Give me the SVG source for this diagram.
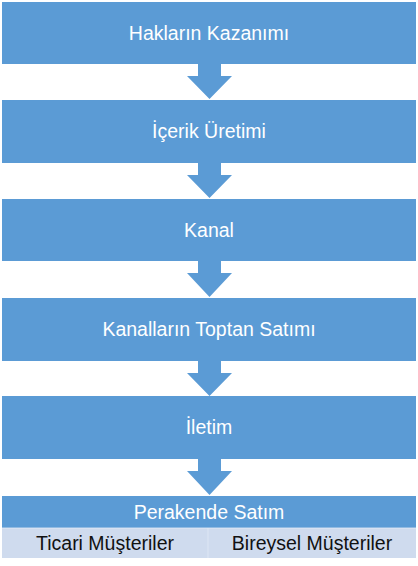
<svg xmlns="http://www.w3.org/2000/svg" width="418" height="566" viewBox="0 0 418 566">
<style>
.box{fill:#5b9bd5}
.arrow{fill:#5b9bd5}
.lbl{font-family:"Liberation Sans",Arial,sans-serif;font-size:19.5px;fill:#ffffff;text-anchor:middle}
.cell{fill:#cfdbee}
.clbl{font-family:"Liberation Sans",Arial,sans-serif;font-size:19.5px;fill:#111111;text-anchor:middle}
</style>
<rect width="418" height="566" fill="#ffffff"/>
<g id="connectors">
<polygon class="arrow" points="198,63 221,63 221,76 232,76 209.5,99 187,76 198,76"/>
<polygon class="arrow" points="198,162 221,162 221,175 232,175 209.5,198 187,175 198,175"/>
<polygon class="arrow" points="198,260 221,260 221,273 232,273 209.5,297 187,273 198,273"/>
<polygon class="arrow" points="198,360 221,360 221,373 232,373 209.5,396 187,373 198,373"/>
<polygon class="arrow" points="198,458 221,458 221,471 232,471 209.5,495 187,471 198,471"/>
</g>
<g id="n1"><rect class="box" x="2" y="2" width="414" height="62"/><text class="lbl" x="209" y="40">Hakların Kazanımı</text></g>
<g id="n2"><rect class="box" x="2" y="100" width="414" height="63"/><text class="lbl" x="209" y="138">İçerik Üretimi</text></g>
<g id="n3"><rect class="box" x="2" y="199" width="414" height="62"/><text class="lbl" x="209" y="237">Kanal</text></g>
<g id="n4"><rect class="box" x="2" y="298" width="414" height="63"/><text class="lbl" x="209" y="336">Kanalların Toptan Satımı</text></g>
<g id="n5"><rect class="box" x="2" y="396" width="414" height="63"/><text class="lbl" x="209" y="434">İletim</text></g>
<g id="n6"><rect class="box" x="2" y="496" width="414" height="32"/><text class="lbl" x="209" y="519">Perakende Satım</text></g>
<g id="n7"><rect class="cell" x="2" y="528" width="206" height="30"/><text class="clbl" x="105" y="550">Ticari Müşteriler</text></g>
<g id="n8"><rect class="cell" x="208" y="528" width="208" height="30"/><text class="clbl" x="312" y="550">Bireysel Müşteriler</text></g>
<line x1="208" y1="528" x2="208" y2="558" stroke="#dde6f4" stroke-width="1"/>
<line x1="2" y1="528" x2="416" y2="528" stroke="#e6eef8" stroke-width="0.8"/>
</svg>
